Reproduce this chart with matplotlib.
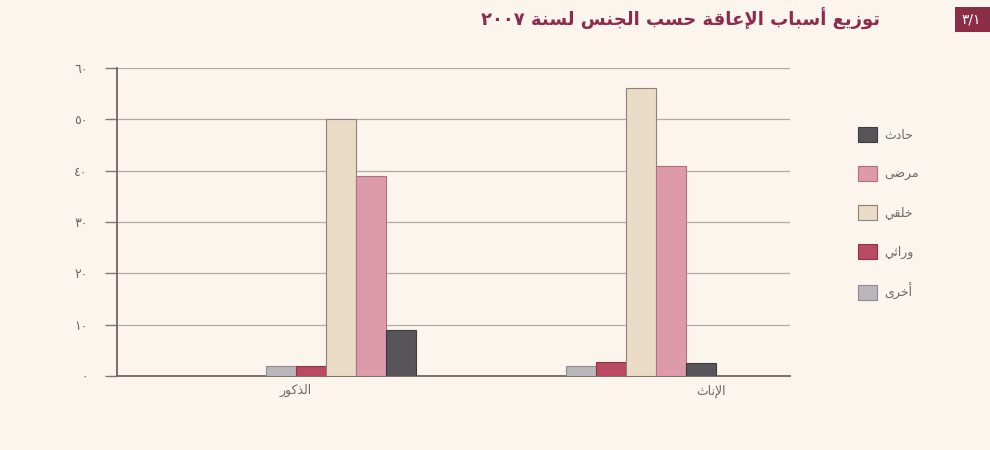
import re
import numpy as np
import matplotlib
matplotlib.use("Agg")
import matplotlib.pyplot as plt
from matplotlib.patches import Rectangle

# data (percent)
groups = ["الذكور", "الإناث"]
causes = ["أخرى", "وراثي", "خلقي", "مرضى", "حادث"]
males = [2, 2, 50, 39, 9]
females = [2, 2.7, 56, 41, 2.5]
colors = ["#b9b7bb", "#b94a62", "#eadbc6", "#dc9aaa", "#58555a"]
edges = ["#8e8c90", "#8f3148", "#8e8278", "#b0707f", "#3e3b3f"]
yticks = [0, 10, 20, 30, 40, 50, 60]

title = "توزيع أسباب الإعاقة حسب الجنس لسنة ٢٠٠٧"

# --- tiny arabic shaper (no arabic_reshaper available) ---
# iso, fin, ini, med ; None means letter does not join to the next one
FORMS = {
    "ء": (0xFE80, None, None, None),
    "آ": (0xFE81, 0xFE82, None, None),
    "أ": (0xFE83, 0xFE84, None, None),
    "ؤ": (0xFE85, 0xFE86, None, None),
    "إ": (0xFE87, 0xFE88, None, None),
    "ئ": (0xFE89, 0xFE8A, 0xFE8B, 0xFE8C),
    "ا": (0xFE8D, 0xFE8E, None, None),
    "ب": (0xFE8F, 0xFE90, 0xFE91, 0xFE92),
    "ة": (0xFE93, 0xFE94, None, None),
    "ت": (0xFE95, 0xFE96, 0xFE97, 0xFE98),
    "ث": (0xFE99, 0xFE9A, 0xFE9B, 0xFE9C),
    "ج": (0xFE9D, 0xFE9E, 0xFE9F, 0xFEA0),
    "ح": (0xFEA1, 0xFEA2, 0xFEA3, 0xFEA4),
    "خ": (0xFEA5, 0xFEA6, 0xFEA7, 0xFEA8),
    "د": (0xFEA9, 0xFEAA, None, None),
    "ذ": (0xFEAB, 0xFEAC, None, None),
    "ر": (0xFEAD, 0xFEAE, None, None),
    "ز": (0xFEAF, 0xFEB0, None, None),
    "س": (0xFEB1, 0xFEB2, 0xFEB3, 0xFEB4),
    "ش": (0xFEB5, 0xFEB6, 0xFEB7, 0xFEB8),
    "ص": (0xFEB9, 0xFEBA, 0xFEBB, 0xFEBC),
    "ض": (0xFEBD, 0xFEBE, 0xFEBF, 0xFEC0),
    "ط": (0xFEC1, 0xFEC2, 0xFEC3, 0xFEC4),
    "ظ": (0xFEC5, 0xFEC6, 0xFEC7, 0xFEC8),
    "ع": (0xFEC9, 0xFECA, 0xFECB, 0xFECC),
    "غ": (0xFECD, 0xFECE, 0xFECF, 0xFED0),
    "ف": (0xFED1, 0xFED2, 0xFED3, 0xFED4),
    "ق": (0xFED5, 0xFED6, 0xFED7, 0xFED8),
    "ك": (0xFED9, 0xFEDA, 0xFEDB, 0xFEDC),
    "ل": (0xFEDD, 0xFEDE, 0xFEDF, 0xFEE0),
    "م": (0xFEE1, 0xFEE2, 0xFEE3, 0xFEE4),
    "ن": (0xFEE5, 0xFEE6, 0xFEE7, 0xFEE8),
    "ه": (0xFEE9, 0xFEEA, 0xFEEB, 0xFEEC),
    "و": (0xFEED, 0xFEEE, None, None),
    "ى": (0xFEEF, 0xFEF0, None, None),
    "ي": (0xFEF1, 0xFEF2, 0xFEF3, 0xFEF4),
}
LAM_ALEF = {"آ": (0xFEF5, 0xFEF6, None, None), "أ": (0xFEF7, 0xFEF8, None, None),
            "إ": (0xFEF9, 0xFEFA, None, None), "ا": (0xFEFB, 0xFEFC, None, None)}


def shape(text):
    units = []
    i = 0
    while i < len(text):
        c = text[i]
        if c == "ل" and i + 1 < len(text) and text[i + 1] in LAM_ALEF:
            units.append(LAM_ALEF[text[i + 1]])
            i += 2
            continue
        units.append(FORMS.get(c, c))
        i += 1
    out = []
    for k, u in enumerate(units):
        if isinstance(u, str):
            out.append(u)
            continue
        prev = units[k - 1] if k > 0 else None
        nxt = units[k + 1] if k + 1 < len(units) else None
        jp = isinstance(prev, tuple) and prev[2] is not None
        jn = u[2] is not None and isinstance(nxt, tuple)
        idx = {(False, False): 0, (True, False): 1, (False, True): 2, (True, True): 3}[(jp, jn)]
        out.append(chr(u[idx]))
    s = "".join(out)[::-1]
    return re.sub(r"[٠-٩0-9]+", lambda m: m.group()[::-1], s)


def ar_digits(n):
    return "".join("٠١٢٣٤٥٦٧٨٩"[int(d)] for d in str(n))


bg = "#fcf5ee"
plt.rcParams["font.family"] = ["DejaVu Sans"]

fig = plt.figure(figsize=(9.9, 4.5), dpi=100, facecolor=bg)
ax = fig.add_axes([0.118, 0.1644, 0.68, 0.6846], facecolor=bg)

centers = np.array([0, 10])
w = 1.0
handles = []
for j, cause in enumerate(causes):
    vals = [males[j], females[j]]
    b = ax.bar(centers + (j - 2) * w, vals, width=w, color=colors[j],
               edgecolor=edges[j], linewidth=0.8, zorder=3, label=shape(cause))
    handles.append(b)

ax.set_xlim(-7.47, 14.97)
ax.set_ylim(0, 60)
ax.set_yticks(yticks)
ax.set_yticklabels([ar_digits(v) for v in yticks], color="#6d6a6a", fontsize=9)
ax.yaxis.grid(True, color="#b0a9a5", linewidth=0.9, zorder=0)
ax.tick_params(axis="y", length=9, color="#7d7673", width=1, pad=12)
ax.set_xticks([])
for s in ["top", "right"]:
    ax.spines[s].set_visible(False)
for s in ["left", "bottom"]:
    ax.spines[s].set_color("#6f6662")
    ax.spines[s].set_linewidth(1.3)

# category labels sit a little off the group centres in the original
for xpos, g in zip([-1.5, 12.35], groups):
    ax.text(xpos, -1.6, shape(g), ha="center", va="top", fontsize=9, color="#6d6a6a")

leg = ax.legend(handles=handles[::-1], loc="upper left", bbox_to_anchor=(1.085, 0.845),
                frameon=False, fontsize=9, handlelength=1.5, handleheight=1.5,
                labelspacing=1.9, handletextpad=0.6, labelcolor="#6d6a6a")

fig.text(0.889, 0.958, shape(title), ha="right", va="center", fontsize=13,
         fontweight="bold", color="#8c2b4d")
fig.patches.append(Rectangle((0.965, 0.93), 0.04, 0.055, transform=fig.transFigure,
                             facecolor="#8b2d47", edgecolor="none"))
fig.text(0.971, 0.957, "٣/١", ha="left", va="center", fontsize=10, color="white")

fig.savefig("out.png", dpi=100, facecolor=bg)
